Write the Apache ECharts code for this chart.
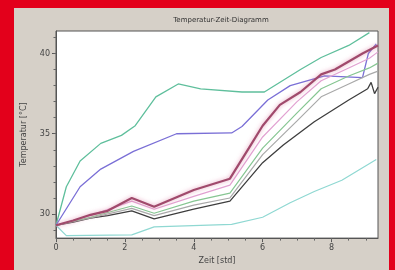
<!DOCTYPE html>
<html>
<head>
<meta charset="utf-8">
<script src="https://cdn.jsdelivr.net/npm/echarts@6/dist/echarts.min.js"></script>
<style>
  html, body { margin: 0; padding: 0; background: #e3001b; }
  #chart { width: 395px; height: 270px; }
</style>
</head>
<body>
<div id="chart"></div>
<script>
// Zeit [std] / Temperatur [°C] pairs per curve
var teal = [[0, 29.3], [0.3, 31.7], [0.7, 33.3], [1.3, 34.4], [1.9, 34.9], [2.3, 35.5], [2.9, 37.3], [3.55, 38.1], [4.2, 37.8], [5.4, 37.6], [6.05, 37.6], [7.1, 39.0], [7.7, 39.75], [8.5, 40.5], [9.1, 41.3]];
var purple = [[0, 29.3], [0.7, 31.7], [1.3, 32.8], [2.25, 33.9], [3.5, 35.0], [5.1, 35.05], [5.4, 35.45], [6.15, 37.1], [6.8, 38.0], [7.8, 38.6], [8.9, 38.5], [9.07, 40.0], [9.3, 40.6]];
var maroon = [[0, 29.3], [0.5, 29.6], [1, 29.95], [1.5, 30.2], [2.2, 31.0], [2.85, 30.45], [4, 31.5], [5.05, 32.2], [5.6, 34.1], [6, 35.5], [6.5, 36.8], [7.1, 37.6], [7.7, 38.7], [8.1, 39.0], [8.9, 40.0], [9.35, 40.5]];
var pink = [[0, 29.3], [1, 29.9], [2.2, 30.8], [2.85, 30.3], [4, 31.1], [5.05, 31.8], [6, 34.8], [7, 37.0], [7.7, 38.3], [8.5, 39.1], [9.1, 39.7], [9.35, 40.1]];
var green = [[0, 29.3], [1, 29.8], [2.2, 30.5], [2.85, 30.05], [4, 30.8], [5.05, 31.3], [6, 34.1], [7, 36.3], [7.7, 37.8], [8.5, 38.6], [9.1, 39.1], [9.35, 39.4]];
var grey = [[0, 29.3], [1, 29.75], [2.2, 30.35], [2.85, 29.9], [4, 30.55], [5.05, 31.0], [6, 33.7], [7, 35.8], [7.7, 37.3], [8.5, 38.1], [9.1, 38.7], [9.35, 38.9]];
var dark = [[0, 29.3], [0.5, 29.5], [1, 29.75], [1.5, 29.9], [2.2, 30.2], [2.85, 29.7], [4, 30.3], [5.05, 30.8], [6, 33.2], [6.6, 34.3], [7.5, 35.75], [8.5, 37.1], [9.05, 37.8], [9.15, 38.2], [9.25, 37.5], [9.35, 37.9]];
var cyan = [[0, 29.3], [0.3, 28.65], [2.2, 28.7], [2.85, 29.2], [5.1, 29.35], [6.0, 29.8], [6.8, 30.7], [7.5, 31.4], [8.3, 32.1], [9.3, 33.4]];

var xLabels = [0, 2, 4, 6, 8];
var xTicks = [0, 0.5, 1, 1.5, 2, 2.5, 3, 3.5, 4, 4.5, 5, 5.5, 6, 6.5, 7, 7.5, 8, 8.5, 9];
var yLabels = [30, 35, 40];
var yTicks = [29, 30, 31, 32, 33, 34, 35, 36, 37, 38, 39, 40, 41];

var chart = echarts.init(document.getElementById('chart'), null, { renderer: 'canvas' });

function line(name, data, color, width) {
  return {
    name: name,
    type: 'line',
    data: data,
    showSymbol: false,
    silent: true,
    lineStyle: { color: color, width: width }
  };
}

var axisFont = { color: '#444', fontSize: 8, fontFamily: 'DejaVu Sans' };

var option = {
  animation: false,
  backgroundColor: '#e3001b',
  graphic: [{
    type: 'rect',
    z: -10,
    shape: { x: 14, y: 8, width: 375, height: 262 },
    style: { fill: '#d6d0c8' }
  }],
  title: {
    text: 'Temperatur-Zeit-Diagramm',
    left: 216,
    top: 12,
    textAlign: 'center',
    textStyle: { color: '#333', fontSize: 7, fontWeight: 'normal', fontFamily: 'DejaVu Sans' }
  },
  grid: {
    left: 56, top: 31, right: 17, bottom: 27,
    show: true,
    backgroundColor: '#fff',
    borderColor: '#555',
    borderWidth: 1
  },
  xAxis: [{
    type: 'value',
    min: 0,
    max: 9.35,
    name: 'Zeit [std]',
    nameLocation: 'middle',
    nameGap: 18,
    nameTextStyle: axisFont,
    axisLine: { lineStyle: { color: '#555' } },
    axisTick: { customValues: xLabels, length: 4, lineStyle: { color: '#555' } },
    axisLabel: Object.assign({ customValues: xLabels, margin: 6 }, axisFont),
    splitLine: { show: false }
  }, {
    type: 'value',
    min: 0,
    max: 9.35,
    position: 'bottom',
    axisLine: { show: false },
    axisTick: { customValues: xTicks, length: 2.5, lineStyle: { color: '#666' } },
    axisLabel: { show: false },
    splitLine: { show: false }
  }],
  yAxis: [{
    type: 'value',
    min: 28.5,
    max: 41.4,
    name: 'Temperatur [°C]',
    nameLocation: 'middle',
    nameGap: 28,
    nameTextStyle: axisFont,
    axisLine: { show: true, lineStyle: { color: '#555' } },
    axisTick: { show: true, customValues: yLabels, length: 4, lineStyle: { color: '#555' } },
    axisLabel: Object.assign({ customValues: yLabels, margin: 6 }, axisFont),
    splitLine: { show: false }
  }, {
    type: 'value',
    min: 28.5,
    max: 41.4,
    position: 'left',
    axisLine: { show: false },
    axisTick: { show: true, customValues: yTicks, length: 2.5, lineStyle: { color: '#666' } },
    axisLabel: { show: false },
    splitLine: { show: false }
  }],
  series: [
    line('cyan', cyan, '#8fd8d2', 1.2),
    line('teal', teal, '#5fbf9c', 1.3),
    line('purple', purple, '#7a6fd6', 1.3),
    line('dark', dark, '#3e3e3e', 1.3),
    line('grey', grey, '#a9a9a9', 1.2),
    line('green', green, '#86c692', 1.2),
    line('pink', pink, '#e2a2d2', 1.2),
    {
      name: 'maroon',
      type: 'line',
      data: maroon,
      showSymbol: false,
      silent: true,
      lineStyle: { color: '#a04a6c', width: 2.2, shadowColor: 'rgba(220,120,160,0.7)', shadowBlur: 4 }
    }
  ]
};

chart.setOption(option);
</script>
</body>
</html>
